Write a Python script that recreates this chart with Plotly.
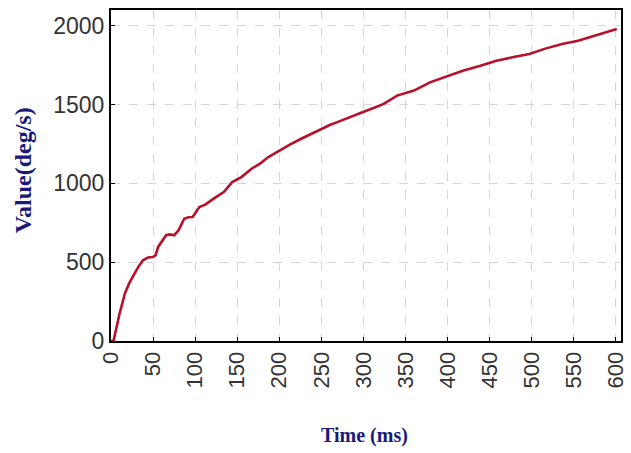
import plotly.graph_objects as go

time_ms = [0, 3, 10, 16.5, 22, 28, 33, 38, 44, 50, 53, 56, 60, 65.5, 70, 75, 80, 87, 92, 97,
           105, 112, 122, 128, 134, 144, 155, 167, 177, 187, 200, 213, 226, 236, 246, 260, 272,
           285, 298, 312, 324, 340, 360, 379, 398, 418, 438, 458, 477, 497, 516, 536, 555,
           575, 590, 601]
value_dps = [0, 0, 170, 302, 370, 428, 475, 512, 530, 533, 545, 597, 630, 671, 676, 671, 700,
             776, 785, 787, 850, 865, 903, 925, 945, 1008, 1040, 1093, 1125, 1167, 1210, 1248,
             1283, 1310, 1335, 1370, 1395, 1420, 1450, 1478, 1504, 1557, 1589, 1641, 1675, 1715,
             1745, 1778, 1800, 1821, 1855, 1884, 1905, 1937, 1958, 1979]

x_ticks = list(range(0, 601, 50))
y_ticks = [0, 500, 1000, 1500, 2000]

fig = go.Figure()
fig.add_trace(go.Scatter(x=time_ms, y=value_dps, mode="lines",
                         line=dict(color="#b8102a", width=2.6), showlegend=False))

fig.update_layout(
    width=631, height=453,
    margin=dict(l=111, r=3, t=10, b=112),
    paper_bgcolor="white", plot_bgcolor="white",
    xaxis=dict(range=[0, 606], tickvals=x_ticks, ticktext=[str(v) for v in x_ticks],
               tickangle=-90, ticks="inside", ticklen=4, tickcolor="black",
               ticklabeloverflow="allow",
               showline=True, linecolor="black", linewidth=2, mirror=True,
               showgrid=True, gridcolor="#d6d6d6", griddash="dash", gridwidth=1,
               zeroline=False,
               tickfont=dict(family="Liberation Sans", size=22, color="#333")),
    yaxis=dict(range=[0, 2100], tickvals=y_ticks, ticktext=[str(v) for v in y_ticks],
               ticks="inside", ticklen=4, tickcolor="black",
               ticklabeloverflow="allow",
               showline=True, linecolor="black", linewidth=2, mirror=True,
               showgrid=True, gridcolor="#d6d6d6", griddash="dash", gridwidth=1,
               zeroline=False,
               tickfont=dict(family="Liberation Sans", size=23, color="#333")),
    annotations=[
        dict(text="<b>Time (ms)</b>", xref="paper", yref="paper", x=0.497, y=-0.287,
             xanchor="center", yanchor="middle", showarrow=False,
             font=dict(family="Liberation Serif", size=20, color="#1a1a7a")),
        dict(text="<b>Value(deg/s)</b>", xref="paper", yref="paper", x=-0.172, y=0.517,
             xanchor="center", yanchor="middle", showarrow=False, textangle=-90,
             font=dict(family="Liberation Serif", size=24, color="#1a1a7a")),
    ],
)

fig.write_html("out.html")
